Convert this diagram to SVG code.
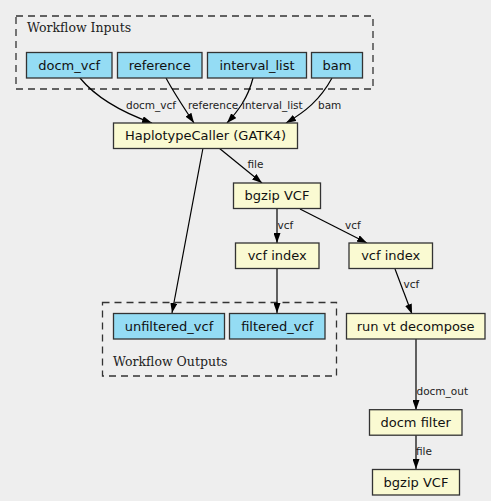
<svg xmlns="http://www.w3.org/2000/svg" width="491" height="501" viewBox="0 0 491 501">
<defs>
<marker id="arr" markerWidth="10" markerHeight="7" refX="10" refY="3.5" orient="auto" markerUnits="userSpaceOnUse">
<path d="M0,0 L10,3.5 L0,7 z" fill="#000"/>
</marker>
<style>
.bg{fill:#eeeeee}
.cluster{fill:none;stroke:#333;stroke-width:1.3;stroke-dasharray:7,5}
.ctitle{font-family:"DejaVu Serif",serif;font-size:12.5px;fill:#222}
.io rect{fill:#94dcf4;stroke:#333;stroke-width:1.3}
.step rect{fill:#fafad2;stroke:#333;stroke-width:1.3}
.nt{font-family:"DejaVu Sans",sans-serif;font-size:13px;fill:#111;text-anchor:middle}
.edges path{fill:none;stroke:#000;stroke-width:1.2;marker-end:url(#arr)}
.el{font-family:"DejaVu Sans",sans-serif;font-size:10.5px;fill:#222}
</style>
</defs>
<rect class="bg" x="0" y="0" width="491" height="501"/>
<g id="cluster_inputs">
<rect class="cluster" x="16" y="16" width="357" height="73"/>
<text class="ctitle" x="27" y="32">Workflow Inputs</text>
</g>
<g id="cluster_outputs">
<rect class="cluster" x="102.5" y="302.5" width="234" height="73.5"/>
<text class="ctitle" x="113" y="366">Workflow Outputs</text>
</g>
<g class="edges" id="connectors">
<path d="M80,78 C98,100 124,113 152,123"/>
<path d="M166,78 C174,93 184,108 194,123"/>
<path d="M253,78 C248,98 238,111 227,123"/>
<path d="M332,78 C320,100 305,112 286,123"/>
<path d="M219,148 L262,183"/>
<path d="M203,148 L172,313"/>
<path d="M277,209 L277,243"/>
<path d="M300,209 L367,243"/>
<path d="M277,269 L277,313"/>
<path d="M395,269 L412,314"/>
<path d="M416,339 L416,410"/>
<path d="M416,435 L416,469"/>
<text class="el" x="126" y="108.5">docm_vcf</text>
<text class="el" x="188" y="108.5">reference</text>
<text class="el" x="242" y="108.5">interval_list</text>
<text class="el" x="318" y="108.5">bam</text>
<text class="el" x="247.5" y="168">file</text>
<text class="el" x="277.5" y="229">vcf</text>
<text class="el" x="345" y="229">vcf</text>
<text class="el" x="403.5" y="288">vcf</text>
<text class="el" x="416.5" y="395">docm_out</text>
<text class="el" x="416" y="455">file</text>
</g>
<g id="docm_vcf" class="io"><rect x="26.5" y="52.5" width="85.5" height="25.5"/><text class="nt" x="69.2" y="69.8">docm_vcf</text></g>
<g id="reference" class="io"><rect x="117.5" y="52.5" width="84.5" height="25.5"/><text class="nt" x="159.7" y="69.8">reference</text></g>
<g id="interval_list" class="io"><rect x="207.5" y="52.5" width="99" height="25.5"/><text class="nt" x="257" y="69.8">interval_list</text></g>
<g id="bam" class="io"><rect x="311.5" y="52.5" width="51" height="25.5"/><text class="nt" x="337" y="69.8">bam</text></g>
<g id="haplotypecaller" class="step"><rect x="113.5" y="123" width="184" height="25.5"/><text class="nt" x="205.5" y="140.3">HaplotypeCaller (GATK4)</text></g>
<g id="bgzip_vcf" class="step"><rect x="233.5" y="183" width="87" height="25.5"/><text class="nt" x="277" y="200.3">bgzip VCF</text></g>
<g id="vcf_index_left" class="step"><rect x="235.5" y="243" width="83.5" height="25.5"/><text class="nt" x="277.2" y="260.3">vcf index</text></g>
<g id="vcf_index_right" class="step"><rect x="349" y="243" width="83.5" height="25.5"/><text class="nt" x="390.7" y="260.3">vcf index</text></g>
<g id="unfiltered_vcf" class="io"><rect x="113.5" y="313.5" width="111" height="25.5"/><text class="nt" x="169" y="330.8">unfiltered_vcf</text></g>
<g id="filtered_vcf" class="io"><rect x="229.5" y="313.5" width="95.5" height="25.5"/><text class="nt" x="277.2" y="330.8">filtered_vcf</text></g>
<g id="run_vt_decompose" class="step"><rect x="346.5" y="313.5" width="138.5" height="25.5"/><text class="nt" x="415.7" y="330.8">run vt decompose</text></g>
<g id="docm_filter" class="step"><rect x="369.5" y="409.7" width="92.5" height="25.5"/><text class="nt" x="415.7" y="427">docm filter</text></g>
<g id="bgzip_vcf_final" class="step"><rect x="372.5" y="469.5" width="87" height="25.5"/><text class="nt" x="416" y="486.8">bgzip VCF</text></g>
</svg>
